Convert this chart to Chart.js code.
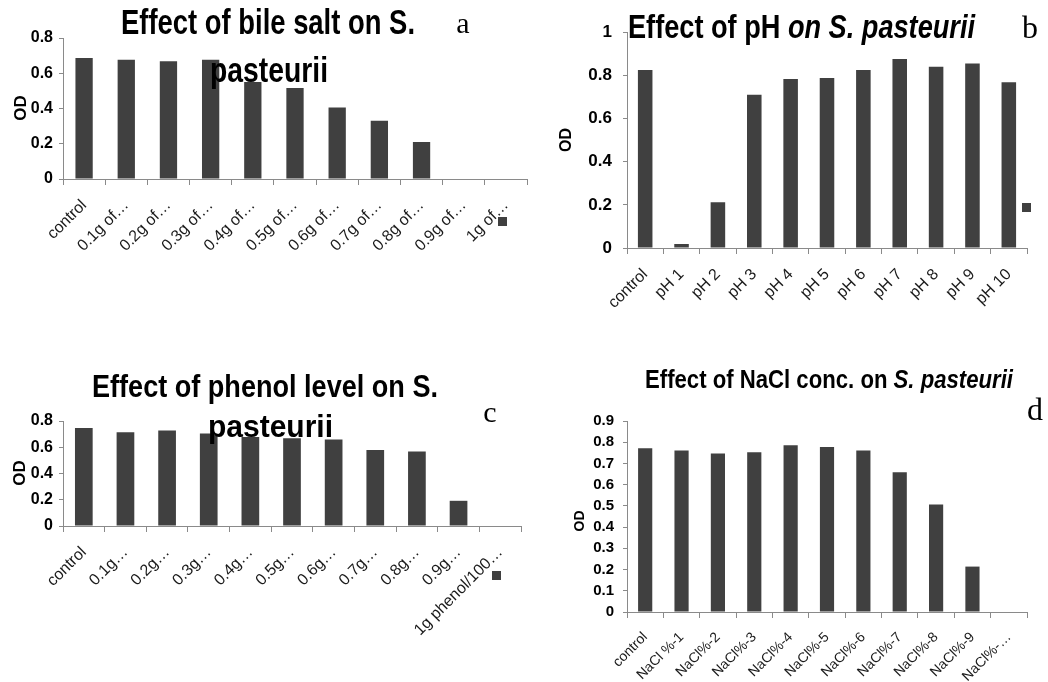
<!DOCTYPE html>
<html><head><meta charset="utf-8">
<script src="https://cdn.jsdelivr.net/npm/chart.js@4/dist/chart.umd.min.js"></script>
<style>
html,body{margin:0;padding:0;background:#fff}
body{width:1048px;height:682px;overflow:hidden;position:relative;font-family:'Liberation Sans',Arial,sans-serif}
canvas{position:absolute}
.t{position:absolute;white-space:nowrap;color:#000;line-height:1;transform-origin:0 0}
.od{position:absolute;white-space:nowrap;font-weight:bold;color:#000;line-height:1;transform:translate(-50%,-50%) rotate(-90deg)}
.sq{position:absolute;background:#404040}
</style></head><body>
<script>
// ---------- data ----------
const catsA = ['control','0.1g of…','0.2g of…','0.3g of…','0.4g of…','0.5g of…','0.6g of…','0.7g of…','0.8g of…','0.9g of…','1g of…'];
const valsA = [0.686, 0.676, 0.668, 0.676, 0.55, 0.516, 0.405, 0.33, 0.21, 0, 0];
const ticksA = [0, 0.2, 0.4, 0.6, 0.8];

const catsB = ['control','pH 1','pH 2','pH 3','pH 4','pH 5','pH 6','pH 7','pH 8','pH 9','pH 10'];
const valsB = [0.825, 0.018, 0.212, 0.71, 0.783, 0.788, 0.825, 0.876, 0.84, 0.855, 0.768];
const ticksB = [0, 0.2, 0.4, 0.6, 0.8, 1];

const catsC = ['control','0.1g…','0.2g…','0.3g…','0.4g…','0.5g…','0.6g…','0.7g…','0.8g…','0.9g…','1g phenol/100…'];
const valsC = [0.747, 0.714, 0.727, 0.704, 0.678, 0.669, 0.659, 0.58, 0.567, 0.192, 0];
const ticksC = [0, 0.2, 0.4, 0.6, 0.8];

const catsD = ['control','NaCl %-1','NaCl%-2','NaCl%-3','NaCl%-4','NaCl%-5','NaCl%-6','NaCl%-7','NaCl%-8','NaCl%-9','NaCl%-…'];
const valsD = [0.772, 0.761, 0.747, 0.753, 0.786, 0.778, 0.761, 0.659, 0.506, 0.214, 0];
const ticksD = [0, 0.1, 0.2, 0.3, 0.4, 0.5, 0.6, 0.7, 0.8, 0.9];

// ---------- layout ----------
const YW = 70, PT = 20, PR = 10, XH = 140;
const BAR = '#404040', AXIS = '#8a8a8a';

const panels = [
  {cats: catsA, vals: valsA, ticks: ticksA, area: [63, 38, 527, 179], yFont: 16, xFont: 16, yPad: 6, bp: 0.41},
  {cats: catsB, vals: valsB, ticks: ticksB, area: [627, 31, 1027, 248], yFont: 17, xFont: 16, yPad: 11, bp: 0.40},
  {cats: catsC, vals: valsC, ticks: ticksC, area: [63, 421, 521, 526], yFont: 16, xFont: 16, yPad: 6, bp: 0.425},
  {cats: catsD, vals: valsD, ticks: ticksD, area: [627, 421, 1027, 612], yFont: 15, xFont: 14, yPad: 9, bp: 0.39}
];

panels.forEach(p => {
  const [L, T, R, B] = p.area;
  const cv = document.createElement('canvas');
  const w = R - L + YW + PR, h = B - T + PT + XH;
  cv.width = w; cv.height = h;
  cv.style.left = (L - YW) + 'px'; cv.style.top = (T - PT) + 'px';
  cv.style.width = w + 'px'; cv.style.height = h + 'px';
  document.body.appendChild(cv);
  const tks = p.ticks;
  new Chart(cv, {
    type: 'bar',
    data: {labels: p.cats, datasets: [{data: p.vals, backgroundColor: BAR, borderWidth: 0,
      barPercentage: p.bp, categoryPercentage: 1}]},
    options: {
      responsive: false, animation: false, devicePixelRatio: 1,
      layout: {padding: {top: PT, right: PR, left: 0, bottom: 0}},
      plugins: {legend: {display: false}, tooltip: {enabled: false}, title: {display: false}},
      scales: {
        x: {
          grid: {drawOnChartArea: false, offset: true, tickLength: 6, color: AXIS},
          border: {color: AXIS},
          ticks: {minRotation: 45, maxRotation: 45, autoSkip: false, padding: 11,
            font: {size: p.xFont, family: "'Liberation Sans', Arial, sans-serif"}, color: '#1a1a1a'},
          afterFit: s => { s.height = XH; }
        },
        y: {
          min: 0, max: tks[tks.length - 1],
          grid: {drawOnChartArea: false, tickLength: 4, color: AXIS},
          border: {color: AXIS},
          ticks: {padding: p.yPad, color: '#000',
            font: {size: p.yFont, weight: 'bold', family: "'Liberation Sans', Arial, sans-serif"},
            callback: v => String(v)},
          afterBuildTicks: s => { s.ticks = tks.map(v => ({value: v})); },
          afterFit: s => { s.width = YW; }
        }
      }
    }
  });
});

// ---------- text overlays ----------
function txt(html, cx, baseline, size, targetW, family, weight, asc) {
  const d = document.createElement('div');
  d.className = 't';
  d.innerHTML = html;
  d.style.fontSize = size + 'px';
  d.style.fontFamily = family;
  d.style.fontWeight = weight;
  document.body.appendChild(d);
  const wNat = d.getBoundingClientRect().width;
  const sx = targetW ? targetW / wNat : 1;
  const wFinal = wNat * sx;
  d.style.left = (cx - wFinal / 2) + 'px';
  d.style.top = (baseline - asc * size) + 'px';
  if (sx !== 1) d.style.transform = 'scaleX(' + sx + ')';
}
const SANS = "'Liberation Sans Narrow','Liberation Sans',Arial,sans-serif";
const SERIF = "'Liberation Serif','Times New Roman',serif";
const aS = 0.8465, aR = 0.8375;

// titles
txt('Effect of bile salt on S.', 268, 34, 35, 294, SANS, 'bold', aS);
txt('pasteurii', 269, 82, 35, 118, SANS, 'bold', aS);
txt('Effect of pH <i>on S. pasteurii</i>', 801, 38, 33, 347, SANS, 'bold', aS);
txt('Effect of phenol level on S.', 265, 397, 31, 346, SANS, 'bold', aS);
txt('pasteurii', 270, 437, 31, 125, SANS, 'bold', aS);
txt('Effect of NaCl conc. on <i>S. pasteurii</i>', 829, 388, 26, 368, SANS, 'bold', aS);
// panel letters
txt('a', 463, 33, 30, 0, SERIF, 'normal', aR);
txt('b', 1030, 38, 32, 0, SERIF, 'normal', aR);
txt('c', 490, 422, 30, 0, SERIF, 'normal', aR);
txt('d', 1035, 420, 32, 0, SERIF, 'normal', aR);

// OD axis titles
[[20, 108, 17], [566, 140, 16], [19, 473, 17], [579, 521, 14]].forEach(([x, y, s]) => {
  const d = document.createElement('div');
  d.className = 'od'; d.textContent = 'OD';
  d.style.left = x + 'px'; d.style.top = y + 'px'; d.style.fontSize = s + 'px';
  document.body.appendChild(d);
});

// stray legend keys
[[498, 217], [1022, 203], [492, 571]].forEach(([x, y]) => {
  const d = document.createElement('div');
  d.className = 'sq';
  d.style.left = x + 'px'; d.style.top = y + 'px'; d.style.width = '9px'; d.style.height = '9px';
  document.body.appendChild(d);
});
</script>
</body></html>
